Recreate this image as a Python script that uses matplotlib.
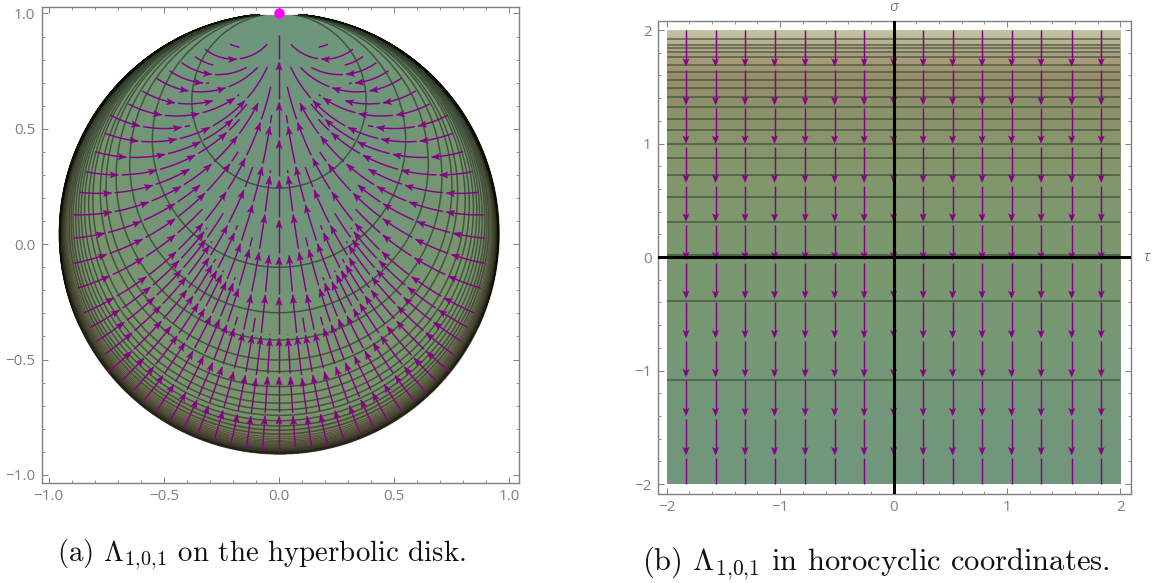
import numpy as np
import matplotlib
matplotlib.use('Agg')
import matplotlib.pyplot as plt
from matplotlib.patches import Arc, Circle, Rectangle
from matplotlib.ticker import MultipleLocator, FuncFormatter

plt.rcParams['font.family'] = ['Open Sans', 'DejaVu Sans']
plt.rcParams['mathtext.fontset'] = 'cm'

W, H = 1153, 583
PURPLE = '#870087'
GRAY = '#808080'

# level curves on the disk: lowest point of each circle on x=0
disk_levels = [0.243, -0.10, -0.297, -0.415, -0.502, -0.552, -0.617, -0.653, -0.689, -0.718,
               -0.742, -0.765, -0.788, -0.806, -0.823]
disk_rim_levels = [-0.835, -0.843, -0.85, -0.856, -0.861, -0.866, -0.87, -0.874, -0.878, -0.881,
                   -0.884, -0.887, -0.889, -0.891, -0.893, -0.895, -0.897, -0.899, -0.9, -0.901,
                   -0.902, -0.903, -0.904, -0.905, -0.906, -0.907, -0.908, -0.909, -0.91]

# disk colour against level
disk_color_levels = [-0.912, -0.88, -0.83, -0.75, -0.55, 0.0, 1.0]
disk_colors = [(100, 96, 72), (110, 106, 80), (118, 124, 90), (122, 148, 108), (120, 150, 112),
               (112, 150, 122), (110, 150, 125)]

# left half of the disk: start, arrow tips, end of each stream
center_start = (0.0, -0.899)
center_end = (0.0, 0.907)
center_heads = [-0.745, -0.575, -0.405, -0.23, -0.054, 0.105, 0.277, 0.45, 0.615, 0.79]

stream_starts = [
    (-0.072, -0.896), (-0.143, -0.889), (-0.21, -0.873), (-0.282, -0.851), (-0.355, -0.827),
    (-0.413, -0.798), (-0.473, -0.765), (-0.534, -0.726), (-0.586, -0.678), (-0.633, -0.635),
    (-0.683, -0.591), (-0.741, -0.552), (-0.756, -0.477), (-0.795, -0.422), (-0.821, -0.361),
    (-0.85, -0.299), (-0.876, -0.191), (-0.893, -0.083), (-0.893, 0.026), (-0.89, 0.127),
    (-0.867, 0.225), (-0.838, 0.314), (-0.799, 0.401), (-0.756, 0.481), (-0.734, 0.56),
    (-0.654, 0.608), (-0.594, 0.664), (-0.531, 0.719), (-0.476, 0.752), (-0.423, 0.787),
    (-0.365, 0.813), (-0.321, 0.845), (-0.213, 0.867)]
stream_ends = [
    (-0.038, -0.39), (-0.044, -0.035), (-0.1, -0.32), (-0.034, 0.32), (-0.184, -0.314),
    (-0.121, 0.03), (-0.2, -0.14), (-0.03, 0.56), (-0.27, -0.1), (-0.184, 0.083),
    (-0.3, -0.05), (-0.119, 0.336), (-0.29, 0.01), (-0.242, 0.134), (-0.31, 0.07),
    (-0.036, 0.683), (-0.329, 0.148), (-0.177, 0.4), (-0.336, 0.263), (-0.09, 0.615),
    (-0.387, 0.322), (-0.17, 0.54), (-0.13, 0.6), (-0.051, 0.769), (-0.387, 0.514),
    (-0.172, 0.649), (-0.275, 0.626), (-0.094, 0.767), (-0.304, 0.699), (-0.14, 0.767),
    (-0.285, 0.777), (-0.051, 0.866), (-0.172, 0.854)]
stream_heads = [
    [(-0.065, -0.745), (-0.05, -0.575), (-0.04, -0.406)],
    [(-0.126, -0.745), (-0.104, -0.581), (-0.078, -0.4), (-0.061, -0.22), (-0.045, -0.05)],
    [(-0.184, -0.736), (-0.152, -0.567), (-0.112, -0.395)],
    [(-0.245, -0.721), (-0.198, -0.552), (-0.155, -0.385), (-0.119, -0.22), (-0.088, -0.036), (-0.06, 0.127), (-0.04, 0.295)],
    [(-0.303, -0.701), (-0.245, -0.533), (-0.195, -0.365)],
    [(-0.355, -0.675), (-0.292, -0.513), (-0.23, -0.35), (-0.185, -0.19), (-0.14, -0.02)],
    [(-0.408, -0.643), (-0.332, -0.484), (-0.27, -0.32), (-0.215, -0.165)],
    [(-0.459, -0.607), (-0.379, -0.461), (-0.31, -0.305), (-0.25, -0.155), (-0.163, 0.0), (-0.113, 0.17), (-0.08, 0.336), (-0.04, 0.509)],
    [(-0.502, -0.571), (-0.42, -0.42), (-0.345, -0.27), (-0.28, -0.12)],
    [(-0.543, -0.533), (-0.455, -0.39), (-0.38, -0.24), (-0.31, -0.095), (-0.2, 0.05)],
    [(-0.586, -0.494), (-0.47, -0.355), (-0.39, -0.215), (-0.32, -0.075)],
    [(-0.64, -0.466), (-0.511, -0.335), (-0.4, -0.2), (-0.304, -0.06), (-0.224, 0.08), (-0.154, 0.235)],
    [(-0.639, -0.384), (-0.515, -0.269), (-0.404, -0.143), (-0.304, -0.006)],
    [(-0.671, -0.339), (-0.541, -0.231), (-0.424, -0.114), (-0.319, 0.018)],
    [(-0.693, -0.286), (-0.559, -0.186), (-0.434, -0.072), (-0.325, 0.054)],
    [(-0.717, -0.234), (-0.575, -0.142), (-0.446, -0.034), (-0.331, 0.09), (-0.23, 0.225), (-0.146, 0.371), (-0.081, 0.526)],
    [(-0.735, -0.139), (-0.588, -0.06), (-0.451, 0.039)],
    [(-0.749, -0.043), (-0.594, 0.023), (-0.452, 0.111), (-0.323, 0.221), (-0.214, 0.348)],
    [(-0.756, 0.044), (-0.596, 0.091), (-0.452, 0.174), (-0.343, 0.257)],
    [(-0.727, 0.138), (-0.567, 0.185), (-0.43, 0.257), (-0.294, 0.346), (-0.181, 0.468), (-0.092, 0.611)],
    [(-0.727, 0.221), (-0.546, 0.2495), (-0.387, 0.322)],
    [(-0.698, 0.303), (-0.531, 0.322), (-0.365, 0.387), (-0.228, 0.483)],
    [(-0.662, 0.38), (-0.495, 0.391), (-0.343, 0.449), (-0.2, 0.54)],
    [(-0.611, 0.449), (-0.444, 0.456), (-0.3, 0.507), (-0.148, 0.622)],
    [(-0.604, 0.514), (-0.423, 0.505)],
    [(-0.509, 0.563), (-0.346, 0.566), (-0.191, 0.632)],
    [(-0.452, 0.613), (-0.288, 0.621)],
    [(-0.394, 0.665), (-0.23, 0.671)],
    [(-0.33, 0.707)],
    [(-0.292, 0.736)],
    [],
    [(-0.184, 0.806)],
    []]

# short dark marks on the cut at the top of the disk
top_mark_x = [-0.122, -0.088]
top_mark_y = 0.993

# right panel
sigma_stops = [-2.0, -1.0, 0.0, 1.0, 1.4, 1.6, 1.8, 2.0]
sigma_colors = [(112, 150, 125), (116, 152, 118), (122, 152, 110), (135, 150, 108), (142, 145, 105),
                (152, 142, 108), (170, 162, 128), (197, 195, 165)]
sigma_levels = [1.92, 1.87, 1.84, 1.81, 1.76, 1.69, 1.63, 1.56, 1.49, 1.41, 1.32, 1.22, 1.12, 1.0,
                0.87, 0.72, 0.53, 0.31, 0.02, -0.39, -1.08]
tau_lines = [-1.83, -1.57, -1.31, -1.05, -0.78, -0.52, -0.26, 0.0, 0.26, 0.52, 0.78, 1.04, 1.3, 1.57, 1.83]
head_sigmas = [1.68, 1.34, 1.0, 0.656, 0.313, -0.026, -0.366, -0.714, -1.057, -1.4, -1.745]


def px_axes(fig, left, top, right, bottom):
    return fig.add_axes([left / W, 1 - bottom / H, (right - left) / W, (bottom - top) / H])


def to_half(w):
    return (1 - 1j * w) / (w - 1j)


def to_disk(z):
    return 1j * (z - 1j) / (z + 1j)


def draw_head(ax, tip, back, length, width):
    d = np.array(tip) - np.array(back)
    d = d / np.hypot(d[0], d[1])
    n = np.array([-d[1], d[0]])
    tip = np.array(tip)
    base = tip - d * length
    notch = tip - d * length * 0.8
    pts = np.array([tip, base + n * width, notch, base - n * width])
    ax.fill(pts[:, 0], pts[:, 1], color=PURPLE, lw=0.2, zorder=5)


def disk_stream(ax, start, end, heads, sign):
    z0 = to_half(complex(*start))
    z1 = to_half(complex(*end))
    h = np.geomspace(z0.imag, z1.imag, 800)
    w = to_disk(z0.real + 1j * h)
    x = sign * w.real
    y = w.imag
    keep = np.ones(len(x), dtype=bool)
    s = np.concatenate([[0], np.cumsum(np.hypot(np.diff(x), np.diff(y)))])
    for hx, hy in heads:
        k = np.argmin(np.hypot(x - sign * hx, y - hy))
        k = max(k, 2)
        draw_head(ax, (x[k], y[k]), (x[k - 2], y[k - 2]), 0.036, 0.014)
        keep[(s > s[k]) & (s < s[k] + 0.014)] = False
    x = np.where(keep, x, np.nan)
    y = np.where(keep, y, np.nan)
    ax.plot(x, y, color=PURPLE, lw=1.05, zorder=4, solid_capstyle='butt')


def style_axes(ax, major, minor, fmt):
    for s in ax.spines.values():
        s.set_color(GRAY)
        s.set_linewidth(1.0)
    ax.xaxis.set_major_locator(MultipleLocator(major))
    ax.yaxis.set_major_locator(MultipleLocator(major))
    ax.xaxis.set_minor_locator(MultipleLocator(minor))
    ax.yaxis.set_minor_locator(MultipleLocator(minor))
    ax.tick_params(which='major', direction='in', length=4.5, width=0.7, color=GRAY, top=True, right=True,
                   labelcolor=GRAY, labelsize=11, pad=4.5)
    ax.tick_params(which='minor', direction='in', length=2.5, width=0.6, color=GRAY, top=True, right=True)
    ax.xaxis.set_major_formatter(FuncFormatter(fmt))
    ax.yaxis.set_major_formatter(FuncFormatter(fmt))


fig = plt.figure(figsize=(W / 100, H / 100), dpi=100, facecolor='white')

# (a) disk
ax = px_axes(fig, 41.7, 7, 518.5, 483)
ax.set_xlim(-1.0306, 1.0402)
ax.set_ylim(-1.035, 1.028)

gx, gy = np.meshgrid(np.linspace(-1, 1, 1200), np.linspace(-1, 1, 1200))
with np.errstate(divide='ignore', invalid='ignore'):
    r = (gx ** 2 + (1 - gy) ** 2) / (2 * (1 - gy))
lev = 1 - 2 * r
rgba = np.zeros(gx.shape + (4,))
for i in range(3):
    rgba[..., i] = np.interp(lev, disk_color_levels, [c[i] / 255 for c in disk_colors])
rgba[..., 3] = ((lev > -0.912) & (gy < top_mark_y)).astype(float)
ax.imshow(rgba, extent=(-1, 1, -1, 1), origin='lower', aspect='auto', interpolation='bilinear', zorder=1)

clip = Rectangle((-1.1, -1.1), 2.2, 1.1 + top_mark_y, transform=ax.transData)
for b in disk_levels:
    c = Circle((0, (1 + b) / 2), (1 - b) / 2, fill=False, ec='#2c3a2c', lw=1.1, alpha=0.7, zorder=2)
    ax.add_patch(c)
    c.set_clip_path(clip)
for b in disk_rim_levels:
    c = Circle((0, (1 + b) / 2), (1 - b) / 2, fill=False, ec='#15170c', lw=0.45, alpha=0.5, zorder=2)
    ax.add_patch(c)
    c.set_clip_path(clip)
# the curves pile up black on the upper part of the rim, fading out towards the sides
arc_starts = np.linspace(50, -25, len(disk_rim_levels))
for b, a in zip(disk_rim_levels, arc_starts):
    c = Arc((0, (1 + b) / 2), 1 - b, 1 - b, theta1=a, theta2=180 - a, ec='#0c0d06', lw=0.65, alpha=0.6, zorder=2)
    ax.add_patch(c)
    c.set_clip_path(clip)

for sgn in (-1, 1):
    ax.plot([sgn * v for v in top_mark_x], [top_mark_y, top_mark_y], color='#222222', lw=1.6, zorder=3)

disk_stream(ax, center_start, center_end, [(0.0, v) for v in center_heads], 1)
for st, en, hd in zip(stream_starts, stream_ends, stream_heads):
    disk_stream(ax, st, en, hd, 1)
    disk_stream(ax, st, en, hd, -1)

ax.plot([0], [1], 'o', color='#ff00ff', ms=7.5, mew=0, zorder=6, clip_on=False)
style_axes(ax, 0.5, 0.1, lambda v, p: f'{v:.1f}'.replace('-', '\u2212'))

# (b) horocyclic coordinates
bx = px_axes(fig, 658, 21, 1130.7, 494)
bx.set_xlim(-2.077, 2.09)
bx.set_ylim(-2.088, 2.08)

sg = np.linspace(-2, 2, 500)
img = np.stack([np.interp(sg, sigma_stops, [c[i] / 255 for c in sigma_colors]) for i in range(3)], axis=-1)[:, None, :]
bx.imshow(img, extent=(-2, 2, -2, 2), origin='lower', aspect='auto', zorder=1)
bx.hlines(sigma_levels, -2, 2, color='#2c3a2c', lw=1.1, alpha=0.65, zorder=2)

gap = 0.03
for t in tau_lines:
    top = 2.0
    for s in head_sigmas:
        bx.plot([t, t], [top, s + 0.03], color=PURPLE, lw=1.05, zorder=4, solid_capstyle='butt')
        draw_head(bx, (t, s), (t, s + 0.1), 0.068, 0.028)
        top = s - gap
    bx.plot([t, t], [top, -2.0], color=PURPLE, lw=1.05, zorder=4, solid_capstyle='butt')

bx.axhline(0, color='black', lw=2.2, zorder=6)
bx.axvline(0, color='black', lw=2.2, zorder=6)
style_axes(bx, 1, 0.2, lambda v, p: f'{v:.0f}'.replace('-', '\u2212'))
bx.text(0, 2.13, '\u03c3', color=GRAY, fontsize=11, style='italic', ha='center', va='bottom', clip_on=False)
bx.text(2.2, 0, '\u03c4', color=GRAY, fontsize=11, style='italic', ha='left', va='center', clip_on=False)

# captions
caption = {'family': 'cmr10', 'color': '#111111', 'ha': 'left', 'va': 'center'}
fig.text(57 / W, 1 - 555 / H, r'(a) $\Lambda_{1{,}0{,}1}$ on the hyperbolic disk.', fontsize=20.8, **caption)
fig.text(642 / W, 1 - 563 / H, r'(b) $\Lambda_{1{,}0{,}1}$ in horocyclic coordinates.', fontsize=22, **caption)

fig.savefig('out.png', dpi=100)
